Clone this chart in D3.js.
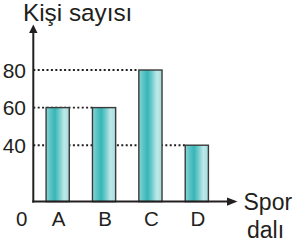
<!DOCTYPE html>
<html>
<head>
<meta charset="utf-8">
<script src="https://cdn.jsdelivr.net/npm/d3@7"></script>
<style>
html,body{margin:0;padding:0;background:#fff;}
svg{display:block;}
text{font-family:"Liberation Sans", Arial, sans-serif; fill:#231f20;}
</style>
</head>
<body>
<script>
const categories = ["A", "B", "C", "D"];
const values = [60, 60, 80, 40];
const tickValues = [40, 60, 80];
const yAxisTitle = "Kişi sayısı";
const xAxisTitle = ["Spor", "dalı"];
const originLabel = "0";

const W = 295, H = 248;
const svg = d3.select("body").append("svg").attr("width", W).attr("height", H);

const x0 = 33.3, yBase = 201.6;
const x = d3.scaleBand().domain(categories).range([34.5, 220]).paddingInner(0.5).paddingOuter(0.25);
const y = d3.scaleLinear().domain([10, 80]).range([yBase, 70]);

// gradient
const defs = svg.append("defs");
const g = defs.append("linearGradient").attr("id", "barGrad").attr("x1", "0%").attr("x2", "100%").attr("y1", "0%").attr("y2", "0%");
[["0%", "#8ed5d5"], ["18%", "#5cc5c5"], ["38%", "#38b5b7"], ["55%", "#6cc9ca"], ["78%", "#bfe8e8"], ["100%", "#a3dddd"]]
  .forEach(([o, c]) => g.append("stop").attr("offset", o).attr("stop-color", c));

// dotted guide lines: from axis to left edge of last bar having that value
tickValues.forEach(t => {
  let last = -1;
  values.forEach((v, i) => { if (v === t) last = i; });
  const xEnd = last >= 0 ? x(categories[last]) : x0;
  svg.append("line")
    .attr("x1", x0).attr("x2", xEnd)
    .attr("y1", y(t)).attr("y2", y(t))
    .attr("stroke", "#231f20").attr("stroke-width", 1.9)
    .attr("stroke-dasharray", "2,2.4");
});

// bars
svg.selectAll("rect.bar").data(categories).enter().append("rect")
  .attr("class", "bar")
  .attr("x", d => x(d))
  .attr("y", (d, i) => y(values[i]))
  .attr("width", x.bandwidth())
  .attr("height", (d, i) => yBase - y(values[i]))
  .attr("fill", "url(#barGrad)")
  .attr("stroke", "#3a3a3a").attr("stroke-width", 1.4);

// axes
svg.append("line").attr("x1", x0).attr("x2", x0).attr("y1", yBase + 1).attr("y2", 32)
  .attr("stroke", "#231f20").attr("stroke-width", 2);
svg.append("line").attr("x1", x0 - 1).attr("x2", 228).attr("y1", yBase).attr("y2", yBase)
  .attr("stroke", "#231f20").attr("stroke-width", 2);
// arrow heads
svg.append("path").attr("d", `M${x0},24.5 L${x0 - 4.2},33 L${x0 + 4.2},33 Z`).attr("fill", "#231f20");
svg.append("path").attr("d", `M237.5,${yBase} L227,${yBase - 4.2} L227,${yBase + 4.2} Z`).attr("fill", "#231f20");

// tick labels
svg.selectAll("text.tick").data(tickValues).enter().append("text")
  .attr("class", "tick")
  .attr("x", 26).attr("y", d => y(d) + 7.5)
  .attr("text-anchor", "end")
  .style("font-size", "21px")
  .text(d => d);

// category labels
svg.selectAll("text.cat").data(categories).enter().append("text")
  .attr("class", "cat")
  .attr("x", d => x(d) + x.bandwidth() / 2 + 1)
  .attr("y", 226)
  .attr("text-anchor", "middle")
  .style("font-size", "20.5px")
  .text(d => d);

svg.append("text").attr("x", 21.7).attr("y", 226).attr("text-anchor", "middle")
  .style("font-size", "20.5px").text(originLabel);

// titles
svg.append("text").attr("x", 23).attr("y", 21).style("font-size", "24.3px").text(yAxisTitle);
svg.append("text").attr("x", 243.5).attr("y", 210).style("font-size", "23px").text(xAxisTitle[0]);
svg.append("text").attr("x", 247).attr("y", 238).style("font-size", "23px").text(xAxisTitle[1]);
</script>
</body>
</html>
